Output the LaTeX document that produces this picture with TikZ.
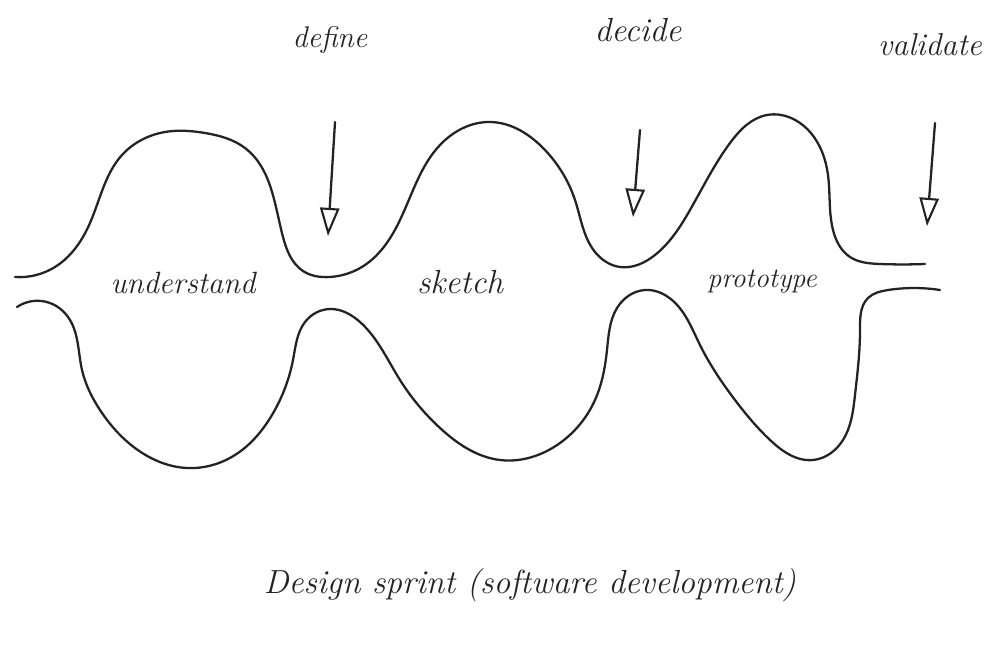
\documentclass[tikz,border=0pt]{standalone}
\usetikzlibrary{arrows.meta,hobby}
\definecolor{ink}{RGB}{35,35,35}
\begin{document}
\begin{tikzpicture}[x=0.02cm,y=-0.02cm,
  pen/.style={draw=ink,line width=1.3pt,line cap=round,line join=round},
  flow/.style={pen,-{Triangle[open,length=16pt,width=11pt,line width=1.2pt]}},
  hand/.style={text=ink,font=\itshape,inner sep=0pt}]
\useasboundingbox (0,0) rectangle (1000,645);
% channel walls
\draw[pen,use Hobby shortcut] (15,277) .. (55,267) .. (90,223) .. (122,155) .. (165,132) .. (205,133) .. (245,148) .. (283,237) .. (303,271) .. (330,277) .. (365,265) .. (400,220) .. (440,145) .. (490,122) .. (545,150) .. (575,200) .. (595,252) .. (620,267) .. (655,255) .. (690,210) .. (730,143) .. (767,115) .. (810,132) .. (828,175) .. (833,230) .. (850,257) .. (880,264) .. (925,264);
\draw[pen,use Hobby shortcut] (17,307) .. (50,303) .. (70,320) .. (82,370) .. (100,410) .. (135,448) .. (187,468) .. (235,455) .. (272,415) .. (293,360) .. (305,322) .. (330,309) .. (360,322) .. (400,380) .. (440,428) .. (500,460) .. (560,443) .. (595,400) .. (607,350) .. (617,308) .. (645,290) .. (672,300) .. (700,345) .. (735,400) .. (770,440) .. (813,460) .. (843,440) .. (855,395) .. (860,330) .. (868,298) .. (888,290) .. (940,290);
% phase labels
\node[hand,font=\itshape\fontsize{17.5}{20}\selectfont] (understand) at (183,283) {understand};
\node[hand,font=\itshape\fontsize{19}{22}\selectfont] (sketch) at (460,282) {sketch};
\node[hand,font=\itshape\fontsize{16}{19}\selectfont] (prototype) at (762,282) {prototype};
% decision labels
\node[hand,font=\itshape\fontsize{17}{20}\selectfont] (define) at (330,40) {define};
\node[hand,font=\itshape\fontsize{19}{22}\selectfont] (decide) at (638,30) {decide};
\node[hand,font=\itshape\fontsize{18}{21}\selectfont] (validate) at (930,45) {validate};
% arrows
\coordinate (defS) at (335,122); \coordinate (defE) at (328,236);
\coordinate (decS) at (640,130); \coordinate (decE) at (633,217);
\coordinate (valS) at (935,123); \coordinate (valE) at (927,226);
\draw[flow] (defS) -- (defE);
\draw[flow] (decS) -- (decE);
\draw[flow] (valS) -- (valE);
% title
\node[hand,font=\itshape\fontsize{19}{22}\selectfont] (title) at (530,585) {Design sprint (software development)};
\end{tikzpicture}
\end{document}
